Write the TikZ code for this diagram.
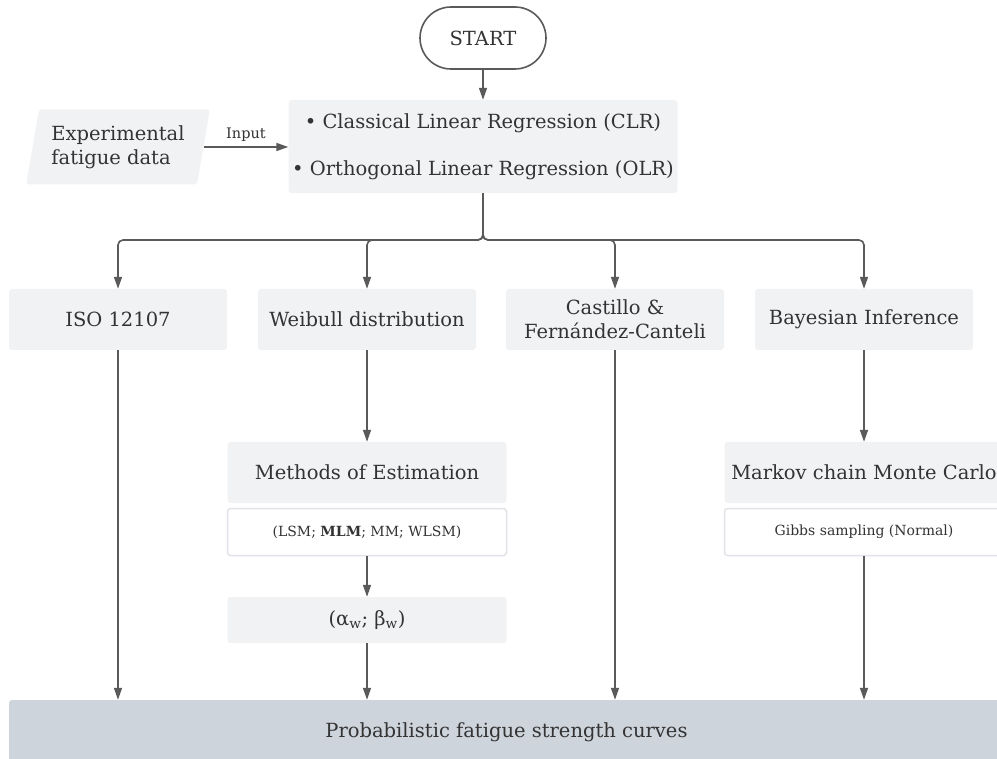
\documentclass[tikz,border=0pt]{standalone}
\usepackage{fontspec}
\setmainfont{DejaVu Serif}
\usetikzlibrary{arrows.meta,shapes.geometric}
\definecolor{Box}{RGB}{241, 242, 244}
\definecolor{Res}{RGB}{206, 212, 220}
\definecolor{Ln}{RGB}{90, 90, 90}
\definecolor{Edge}{RGB}{224, 227, 232}
\definecolor{Txt}{RGB}{51, 51, 51}
\newcommand{\mainsize}{\fontsize{19.5}{24}\selectfont}
\newcommand{\subsize}{\fontsize{14}{17}\selectfont}
\newcommand{\inputsize}{\fontsize{14.5}{17}\selectfont}
\tikzset{
  box/.style={fill=Box, rounded corners=3pt, minimum width=218pt, minimum height=61pt, inner sep=0pt, text=Txt, font=\mainsize, align=center},
  widebox/.style={box, minimum width=279pt},
  subbox/.style={widebox, fill=white, draw=Edge, line width=1.5pt, minimum height=47pt, font=\subsize},
  flow/.style={draw=Ln, line width=1.6pt, -{Triangle[length=12pt,width=8pt]}},
}

\begin{document}
\begin{tikzpicture}[x=1pt, y=1pt]
  \useasboundingbox (0,0) rectangle (997,-759);
  \node[draw=Ln, line width=1.6pt, fill=white, rounded corners=31pt, minimum width=126pt, minimum height=62pt, text=Txt, font=\mainsize] (start) at (483,-38) {START};
  \node[box, minimum width=389pt, minimum height=93pt, font={\fontsize{19.5}{47}\selectfont}] (clr) at (483,-146.5) {\textbullet{} Classical Linear Regression (CLR)\\ \textbullet{} Orthogonal Linear Regression (OLR)};
  \node[trapezium, trapezium left angle=76, trapezium right angle=104, trapezium stretches=true, fill=Box, rounded corners=3pt, minimum width=184pt, minimum height=75pt, inner sep=0pt, text=Txt, font=\mainsize, align=left] (exp) at (118,-147) {Experimental\\fatigue data};
  \node[box] (iso) at (118,-319.5) {ISO 12107};
  \node[box] (weib) at (367,-319.5) {Weibull distribution};
  \node[box] (cast) at (615,-319.5) {Castillo \&\\Fernández-Canteli};
  \node[box] (bayes) at (864,-319.5) {Bayesian Inference};
  \node[widebox] (meth) at (367,-472.5) {Methods of Estimation};
  \node[subbox] (lsm) at (367,-532) {(LSM; \textbf{MLM}; MM; WLSM)};
  \node[widebox, minimum height=46pt] (par) at (367,-620) {(α\textsubscript{w}; β\textsubscript{w})};
  \node[widebox] (mcmc) at (864,-472.5) {Markov chain Monte Carlo};
  \node[subbox] (gibbs) at (864,-532) {Gibbs sampling (Normal)};
  \node[box, fill=Res, minimum width=995pt, minimum height=65pt] (curves) at (506.5,-732.5) {Probabilistic fatigue strength curves};
  \coordinate (split) at (483,-240);

  \draw[flow] (start) -- (clr);
  \draw[flow] (exp.east) -- node[above=1pt, text=Txt, font=\inputsize] {Input} (exp.east -| clr.west);
  \draw[flow, rounded corners=5pt] (clr.south) -- (split) -| (iso.north);
  \draw[flow, rounded corners=5pt] (clr.south) -- (split) -| (weib.north);
  \draw[flow, rounded corners=5pt] (clr.south) -- (split) -| (cast.north);
  \draw[flow, rounded corners=5pt] (clr.south) -- (split) -| (bayes.north);
  \draw[flow] (weib) -- (meth);
  \draw[flow] (bayes) -- (mcmc);
  \draw[flow] (lsm) -- (par);
  \draw[flow] (par.south) -- (par.south |- curves.north);
  \draw[flow] (iso.south) -- (iso.south |- curves.north);
  \draw[flow] (cast.south) -- (cast.south |- curves.north);
  \draw[flow] (gibbs.south) -- (gibbs.south |- curves.north);
\end{tikzpicture}
\end{document}
